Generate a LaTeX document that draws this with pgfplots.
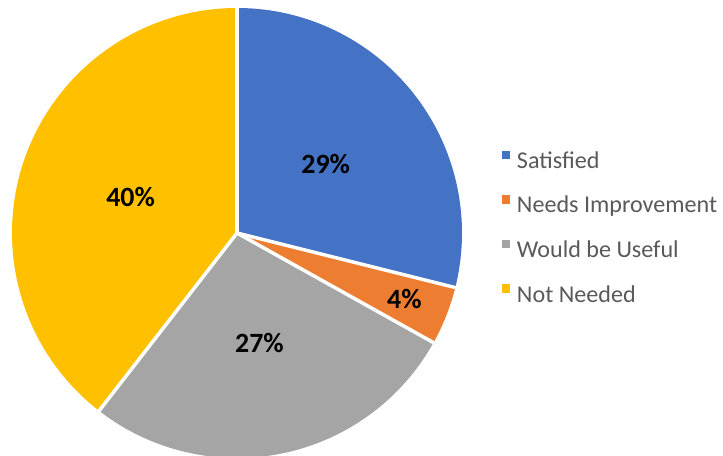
\documentclass[border=0pt]{standalone}
\usepackage{fontspec}
\setmainfont{Carlito}
\usepackage{pgfplots}
\usepackage{pgfplotstable}
\pgfplotsset{compat=1.18}
\definecolor{c0}{HTML}{4472C4}
\definecolor{c1}{HTML}{ED7D31}
\definecolor{c2}{HTML}{A5A5A5}
\definecolor{c3}{HTML}{FFC000}
\definecolor{legtext}{HTML}{595959}
\pgfplotstableread{
value labr
28.9 0.50
4.2  0.80
27.4 0.50
39.5 0.50
}\piedata
\tikzset{pielabel/.style={font=\fontsize{28}{32}\selectfont\bfseries, text=black, inner sep=0pt}}
\pgfplotsset{sqlegend/.style={legend image code/.code={\fill[##1] (0bp,1.5bp) rectangle (8.5bp,10bp);}}}
\begin{document}
\begin{tikzpicture}
\begin{axis}[
  scale only axis, width=723bp, height=456bp,
  xmin=0, xmax=723, ymin=0, ymax=456,
  hide axis,
  legend style={draw=none, fill=none, at={(0.694,0.502)}, anchor=west,
    font=\fontsize{24.2}{28}\selectfont, text=legtext,
    inner sep=0pt, row sep=25.5bp, column sep=6.5bp,
    nodes={inner sep=0pt}},
  legend cell align=left,
]
\addlegendimage{sqlegend, fill=c0, draw=none}\addlegendentry{Satisfied}
\addlegendimage{sqlegend, fill=c1, draw=none}\addlegendentry{Needs Improvement}
\addlegendimage{sqlegend, fill=c2, draw=none}\addlegendentry{Would be Useful}
\addlegendimage{sqlegend, fill=c3, draw=none}\addlegendentry{Not Needed}
\def\cum{0}
\pgfplotsforeachungrouped \i in {0,...,3}{%
  \pgfplotstablegetelem{\i}{value}\of\piedata \let\v\pgfplotsretval
  \pgfmathsetmacro\a{90-3.6*\cum}%
  \pgfmathsetmacro\b{90-3.6*(\cum+\v)}%
  \edef\slice{%
    \noexpand\fill[c\i] (axis cs:237,223) -- ++(\a:225bp) arc[start angle=\a, end angle=\b, radius=225bp] -- cycle;
  }%
  \slice
  \pgfmathsetmacro\cum{\cum+\v}%
}
\def\cum{0}
\pgfplotsforeachungrouped \i in {0,...,3}{%
  \pgfplotstablegetelem{\i}{value}\of\piedata \let\v\pgfplotsretval
  \pgfplotstablegetelem{\i}{labr}\of\piedata \let\lr\pgfplotsretval
  \pgfmathsetmacro\a{90-3.6*\cum}%
  \pgfmathsetmacro\b{90-3.6*(\cum+\v)}%
  \pgfmathsetmacro\m{(\a+\b)/2}%
  \pgfmathsetmacro\r{225*\lr}%
  \pgfmathtruncatemacro\vi{round(\v)}%
  \edef\slice{%
    \noexpand\draw[white, line width=3.5bp] (axis cs:237,223) -- ++(\a:226bp);
    \noexpand\path (axis cs:237,223) ++(\m:\r bp) node[pielabel] {\vi\noexpand\%};
  }%
  \slice
  \pgfmathsetmacro\cum{\cum+\v}%
}
\end{axis}
\pgfresetboundingbox
\path[use as bounding box] (current axis.south west) rectangle (current axis.north east);
\end{tikzpicture}
\end{document}
